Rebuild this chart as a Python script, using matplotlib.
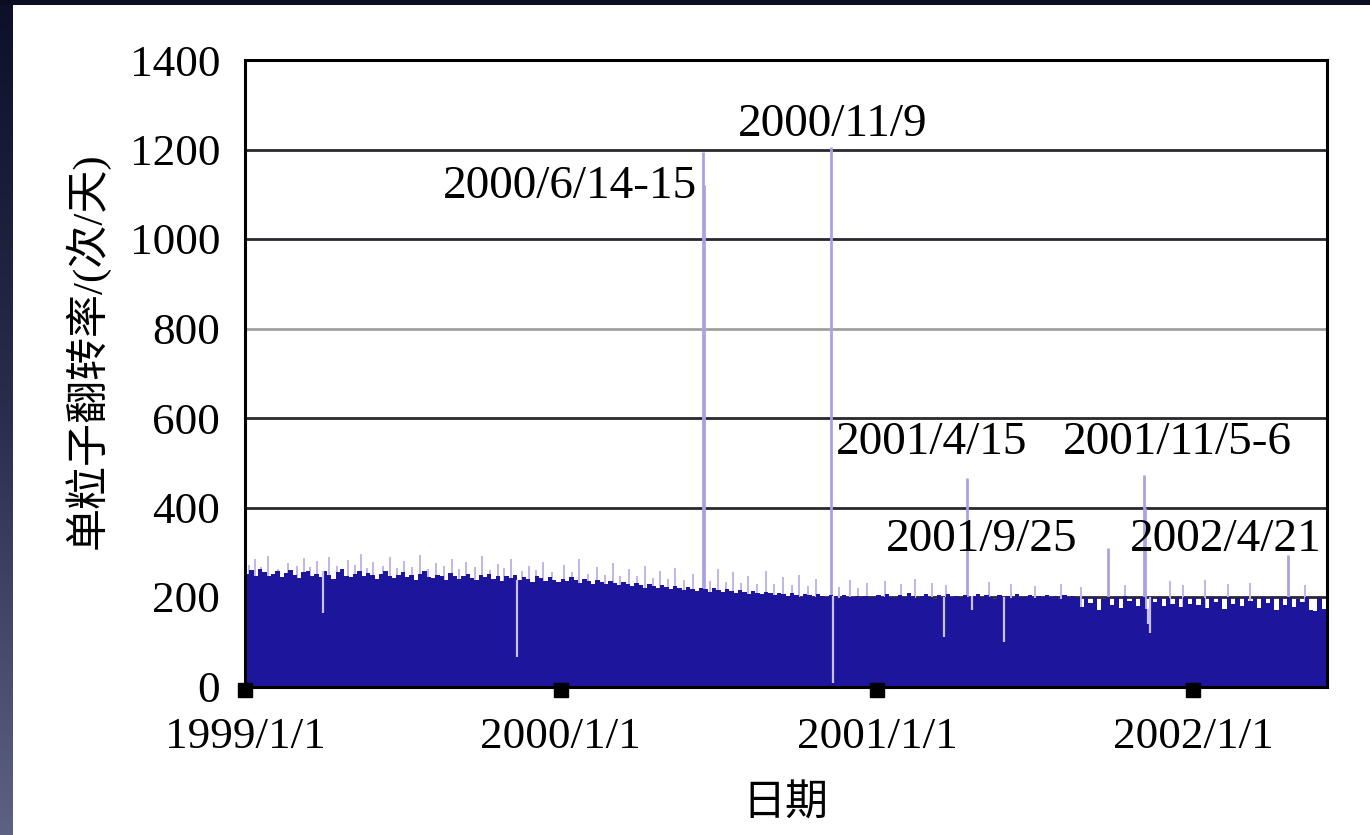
import datetime as dt
import numpy as np
import matplotlib
matplotlib.use("Agg")
import matplotlib.pyplot as plt
import matplotlib.dates as mdates
import matplotlib.transforms as mtransforms
from matplotlib.patches import Rectangle
from matplotlib.colors import LinearSegmentedColormap

# ---------------- data ----------------
# Typical daily SEU count, one value per 5-day block starting 1999-01-01
level_1999 = [252, 260, 247, 263, 255, 246, 251, 258, 244, 254,
              261, 249, 243, 255, 259, 247, 252, 245, 257, 250,
              241, 255, 263, 248, 244, 251, 258, 246, 253, 249,
              240, 252, 259, 247, 243, 250, 256, 244, 249, 238,
              251, 257, 245, 242, 250, 247, 239, 254, 248, 241,
              246, 252, 243, 237, 249, 244, 251, 240, 246, 236,
              248, 243, 250, 238, 245, 241, 234, 247, 242, 236,
              244, 239, 233]
level_2000 = [240, 236, 244, 238, 232, 241, 235, 230, 239, 233,
              228, 236, 231, 226, 234, 229, 224, 231, 227, 221,
              229, 224, 219, 227, 222, 217, 225, 220, 216, 223,
              218, 214, 221, 217, 212, 219, 215, 211, 218, 213,
              209, 216, 211, 207, 214, 210, 206, 212, 208, 204,
              210, 206, 203, 209, 205, 201, 207, 204, 200, 206,
              203, 199, 205, 202, 198, 204, 201, 200, 203, 199,
              202, 198, 201]
level_2001 = [204, 199, 206, 201, 197, 205, 200, 208, 202, 198,
              203, 207, 200, 196, 204, 201, 206, 199, 203, 197,
              205, 200, 202, 207, 198, 204, 201, 196, 205, 200,
              203, 198, 206, 201, 199, 204, 197, 203, 200, 205,
              199, 202, 196, 204, 200, 203, 198, 178, 201, 186,
              200, 172, 195, 201, 183, 199, 176, 202, 190, 198,
              181, 200, 174, 199, 188, 201, 179, 198, 185, 200,
              177, 199, 184]
level_2002 = [200, 182, 198, 176, 201, 189, 199, 173, 200, 185,
              198, 179, 201, 190, 197, 175, 200, 186, 199, 172,
              198, 183, 200, 177, 196, 188, 199, 170, 168, 197,
              174]
block_days = 5

# Short-lived daily maxima rising above the typical level
peak_dates = ["1999-01-06", "1999-01-12", "1999-01-20", "1999-01-28", "1999-02-08",
              "1999-02-20", "1999-03-02", "1999-03-10", "1999-03-17", "1999-03-25",
              "1999-04-08", "1999-04-17", "1999-04-30", "1999-05-08", "1999-05-15",
              "1999-05-22", "1999-05-29", "1999-06-09", "1999-06-18", "1999-06-26",
              "1999-07-04", "1999-07-13", "1999-07-22", "1999-08-01", "1999-08-10",
              "1999-08-19", "1999-08-28", "1999-09-06", "1999-09-14", "1999-09-24",
              "1999-10-02", "1999-10-11", "1999-10-20", "1999-10-28", "1999-11-05",
              "1999-11-17", "1999-11-25", "1999-12-03", "1999-12-12", "1999-12-22",
              "2000-01-05", "2000-01-14", "2000-01-22", "2000-02-02", "2000-02-12",
              "2000-02-21", "2000-03-01", "2000-03-10", "2000-03-20", "2000-03-29",
              "2000-04-08", "2000-04-17", "2000-04-25", "2000-05-04", "2000-05-12",
              "2000-05-22", "2000-06-02", "2000-06-22", "2000-07-01", "2000-07-10",
              "2000-07-18", "2000-07-27", "2000-08-05", "2000-08-15", "2000-08-25",
              "2000-09-04", "2000-09-14", "2000-09-24", "2000-10-03", "2000-10-13",
              "2000-10-22", "2000-11-18", "2000-12-01", "2000-12-10", "2000-12-20",
              "2001-01-10", "2001-01-28", "2001-02-14", "2001-03-05", "2001-03-22",
              "2001-05-10", "2001-06-05", "2001-07-02", "2001-08-01", "2001-08-25",
              "2001-10-15", "2001-12-05", "2001-12-20",
              "2002-01-15", "2002-02-10", "2002-03-08", "2002-05-10"]
peak_values = [272, 285, 268, 292, 263,
               275, 270, 288, 266, 280,
               290, 269, 283, 271, 296,
               265, 278, 270, 289, 264,
               281, 268, 293, 262, 277,
               269, 286, 263, 279, 267,
               291, 260, 274, 265, 284,
               258, 270, 261, 279, 255,
               272, 256, 286, 252, 268,
               250, 275, 248, 262, 246,
               270, 243, 258, 240, 265,
               238, 252, 236, 262, 234,
               255, 231, 248, 229, 258,
               228, 244, 226, 250, 224,
               240, 222, 238, 220, 232,
               236, 228, 240, 232, 226,
               234, 228, 224, 230, 222,
               226, 236, 226,
               238, 228, 232, 226]

# Days with unusually low counts
dip_dates = ["1999-04-01", "1999-11-12", "2000-11-11", "2001-03-19",
             "2001-04-21", "2001-05-28", "2001-11-10", "2001-11-12"]
dip_values = [164, 66, 8, 110, 172, 100, 140, 120]

# Solar-event days with strong SEU enhancement
event_dates = ["2000-06-14", "2000-06-15", "2000-11-09", "2001-04-15",
               "2001-09-25", "2001-11-05", "2001-11-06", "2002-04-21"]
event_values = [1195, 1120, 1205, 466, 310, 472, 400, 294]

event_labels = ["2000/11/9", "2000/6/14-15", "2001/4/15", "2001/11/5-6",
                "2001/9/25", "2002/4/21"]

x_ticks = ["1999-01-01", "2000-01-01", "2001-01-01", "2002-01-01"]
x_tick_labels = ["1999/1/1", "2000/1/1", "2001/1/1", "2002/1/1"]
y_ticks = [0, 200, 400, 600, 800, 1000, 1200, 1400]

x_start, x_end = "1999-01-01", "2002-06-05"

# ---------------- figure ----------------
SERIF = ["Liberation Serif", "DejaVu Serif"]
CJK = ["Liberation Serif", "Noto Sans CJK SC", "DejaVu Sans"]

W, H = 1370, 835
fig = plt.figure(figsize=(W / 100, H / 100), dpi=100, facecolor="white")

# dark frame strips along the left and top edges
edge_ax = fig.add_axes([0, 0, 12 / W, 1])
grad = np.linspace(0, 1, 256).reshape(-1, 1)
edge_cmap = LinearSegmentedColormap.from_list("edge", ["#5d6280", "#2a2e4c", "#0d1028"])
edge_ax.imshow(grad, aspect="auto", cmap=edge_cmap, origin="lower", extent=[0, 1, 0, 1])
edge_ax.set_axis_off()
fig.patches.append(Rectangle((0, 1 - 5 / H), 1, 5 / H, transform=fig.transFigure,
                             facecolor="#0b0d22", edgecolor="none", zorder=5))

ax = fig.add_axes([245 / W, (H - 686.5) / H, (1327 - 245) / W, (686.5 - 60) / H])


def to_num(s):
    return mdates.date2num(dt.datetime.strptime(s, "%Y-%m-%d"))


level = np.array(level_1999 + level_2000 + level_2001 + level_2002, dtype=float)
t0 = to_num(x_start)
edges = t0 + block_days * np.arange(len(level) + 1)

blue = "#1d169c"

# gridlines
for v in y_ticks[1:-1]:
    ax.axhline(v, color="#a0a0a0" if v == 800 else "#2b2730", lw=2.0, zorder=0.5)

# event spikes and daily maxima (behind the filled level)
ev_x = [to_num(d) for d in event_dates]
ax.vlines(ev_x, 0, event_values, color="#aaa2e4", lw=2.0, zorder=1)
pk_x = [to_num(d) for d in peak_dates]
ax.vlines(pk_x, 0, peak_values, color="#c2b6ea", lw=1.4, zorder=1)

# typical level
ax.stairs(level, edges, fill=True, color=blue, zorder=2, lw=0)

# low-count days showing as pale notches in the fill
dp_x = [to_num(d) for d in dip_dates]
dp_top = [level[min(int((x - t0) // block_days), len(level) - 1)] for x in dp_x]
ax.vlines(dp_x, dip_values, dp_top, color="#c9c0f2", lw=1.6, zorder=3)

ax.set_xlim(to_num(x_start), to_num(x_end))
ax.set_ylim(0, 1400)

ax.set_yticks(y_ticks)
ax.set_yticklabels([str(v) for v in y_ticks], fontfamily=SERIF, fontsize=32.5)
ax.set_xticks([to_num(d) for d in x_ticks])
ax.set_xticklabels(x_tick_labels, fontfamily=SERIF, fontsize=32.5)
ax.tick_params(axis="both", length=0)
ax.tick_params(axis="y", pad=18)
ax.tick_params(axis="x", pad=22)

for sp in ax.spines.values():
    sp.set_color("black")
    sp.set_linewidth(2.2)
    sp.set_zorder(6)

# square tick markers under the time axis
off = mtransforms.ScaledTranslation(0, -3.5 / 100, fig.dpi_scale_trans)
ax.plot([to_num(d) for d in x_ticks], [0] * len(x_ticks), "s", ms=10.5,
        color="black", clip_on=False, zorder=7, transform=ax.transData + off)

# event labels
bt = mtransforms.blended_transform_factory(ax.transAxes, ax.transData)


def px(x):
    return (x - 245) / (1327 - 245)


label_pos = [(833, 1255, "center"), (697, 1116, "right"), (932, 544, "center"),
             (1177, 544, "center"), (982, 327, "center"), (1226, 327, "center")]
for txt, (x, y, ha) in zip(event_labels, label_pos):
    ax.text(px(x), y, txt, transform=bt, ha=ha, va="center",
            fontfamily=SERIF, fontsize=34, zorder=8)

# axis titles
fig.text(785 / W, 1 - 805 / H, "日期", ha="center", va="center",
         fontfamily=CJK, fontsize=31)
fig.text(87 / W, 1 - 351 / H, "单粒子翻转率/(次/天)", ha="center", va="center",
         rotation=90, fontfamily=CJK, fontsize=31)

fig.savefig("out.png", dpi=100, facecolor="white")
